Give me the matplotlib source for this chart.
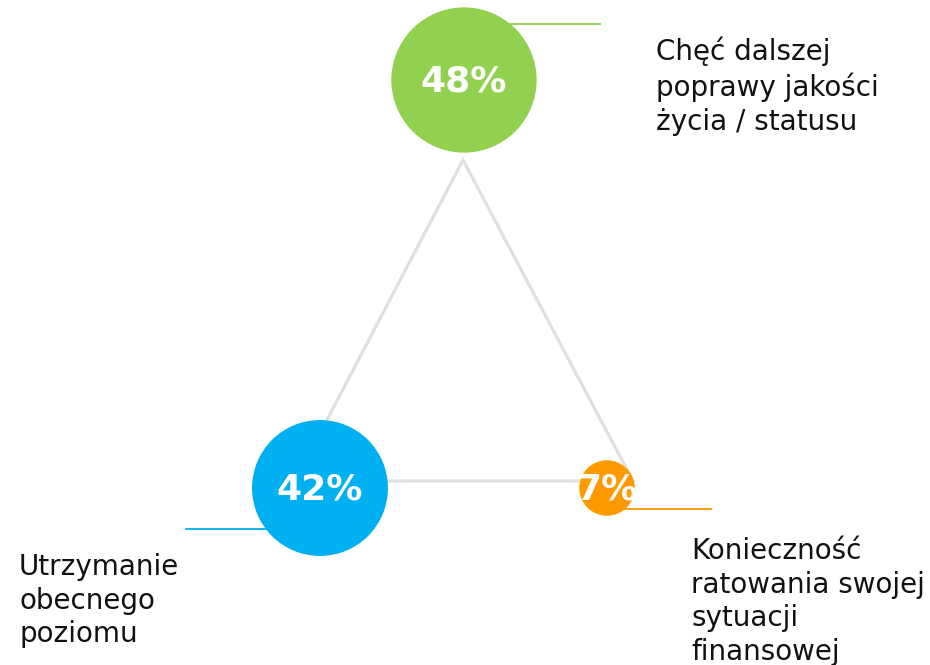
import matplotlib.pyplot as plt

# dane
labels = ["Chęć dalszej\npoprawy jakości\nżycia / statusu",
          "Utrzymanie\nobecnego\npoziomu",
          "Konieczność\nratowania swojej\nsytuacji\nfinansowej"]
values = [48, 42, 7]
colors = ["#92D050", "#00B0F0", "#FF9900"]

# układ (w pikselach obrazka)
centers = [(464, 80), (320, 488), (607, 488)]
triangle = [(463, 160), (295, 481), (633, 481)]
leaders = [((464, 600), 24), ((186, 320), 529), ((607, 711), 509)]
label_pos = [(656, 37, "left"), (19, 553, "left"), (691, 537, "left")]

fig = plt.figure(figsize=(9.3, 6.65), dpi=100)
ax = fig.add_axes([0, 0, 1, 1])
ax.set_xlim(0, 930)
ax.set_ylim(665, 0)
ax.axis("off")

# trójkąt w tle
tri = plt.Polygon(triangle, closed=True, fill=False, edgecolor="#E0E0E0",
                  linewidth=2.3, joinstyle="miter", zorder=1)
ax.add_patch(tri)

# linie odniesienia
for (xs, y), c in zip(leaders, colors):
    ax.plot(xs, [y, y], color=c, linewidth=1.3, zorder=2)

# kółka - pole proporcjonalne do wartości
xs = [p[0] for p in centers]
ys = [p[1] for p in centers]
ax.scatter(xs, ys, s=[228 * v for v in values], c=colors, linewidths=0, zorder=3)

for (x, y), v in zip(centers, values):
    ax.text(x, y + 1, f"{v}%", color="white", fontsize=26, fontweight="bold",
            ha="center", va="center", zorder=4)

for (x, y, ha), lab in zip(label_pos, labels):
    ax.text(x, y, lab, fontsize=20, color="#111111", ha=ha, va="top",
            linespacing=1.26, zorder=4)

fig.savefig("out.png", dpi=100)
